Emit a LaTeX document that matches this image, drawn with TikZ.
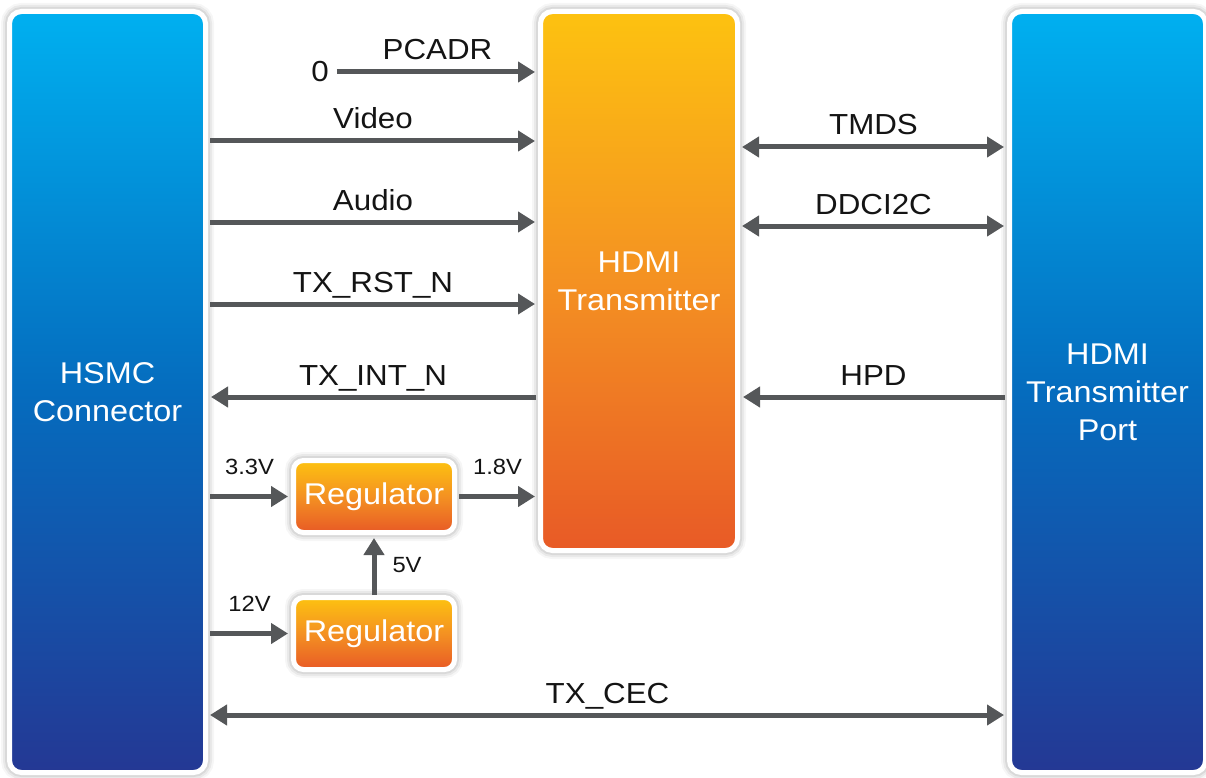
\documentclass[tikz,border=0pt]{standalone}
\usepackage{fontspec}
\setmainfont{Liberation Sans}[FakeStretch=1.08]
\usetikzlibrary{arrows.meta, positioning}
\definecolor{skytop}{RGB}{0,176,240}
\definecolor{bluemid}{RGB}{5,108,190}
\definecolor{navybottom}{RGB}{36,56,148}
\definecolor{ambertop}{RGB}{253,194,16}
\definecolor{orangemid}{RGB}{244,145,34}
\definecolor{rustbottom}{RGB}{232,90,38}
\definecolor{arrowgray}{RGB}{85,87,89}
\definecolor{labelblack}{RGB}{20,20,20}

\begin{document}
\begin{tikzpicture}[
    x=1pt, y=-1pt,
    block/.style={draw=white, line width=5pt, rounded corners=12pt, inner sep=0pt, align=center,
      text=white, font=\fontsize{30}{38}\selectfont,
      preaction={draw=black, draw opacity=0.035, line width=17pt},
      preaction={draw=black, draw opacity=0.05, line width=13pt},
      preaction={draw=black, draw opacity=0.07, line width=9pt}},
    blueblock/.style={block, top color=skytop, bottom color=navybottom, middle color=bluemid,
      minimum width=196pt, minimum height=761pt},
    orangeblock/.style={block, top color=ambertop, bottom color=rustbottom, middle color=orangemid},
    regulator/.style={orangeblock, rounded corners=10pt, minimum width=161pt, minimum height=72pt},
    arrow/.style={-{Triangle[length=17pt, width=20pt]}, line width=5pt, draw=arrowgray,
      shorten >=3pt, shorten <=2pt},
    biarrow/.style={arrow, {Triangle[length=17pt, width=20pt]}-{Triangle[length=17pt, width=20pt]}},
    sig/.style={anchor=base, yshift=12pt, inner sep=0pt, text=labelblack, font=\fontsize{29}{32}\selectfont},
    sigsmall/.style={sig, yshift=10pt, font=\fontsize{22}{25}\selectfont}
]
    \useasboundingbox (0,0) rectangle (1206,778);

    % Blocks
    \node[blueblock] (hsmc) at (107.5,392) {HSMC\\Connector};
    \node[orangeblock, minimum width=197pt, minimum height=539pt] (tx) at (639,281) {HDMI\\Transmitter};
    \node[blueblock] (port) at (1107.5,392) {HDMI\\Transmitter\\Port};
    \node[regulator] (reg1) at (374,496.5) {Regulator};
    \node[regulator, below=60pt of reg1] (reg2) {Regulator};
    \node[inner sep=0pt, text=labelblack, font=\fontsize{29}{32}\selectfont] (zero) at (320,72) {0};
    \coordinate (zstart) at ([xshift=8pt]zero.east);

    % HSMC to transmitter
    \draw[arrow, shorten <=0pt] (zstart) -- node[sig] {PCADR} (tx.west |- zstart);
    \draw[arrow] (hsmc.east |- 0,141) -- node[sig] {Video} (tx.west |- 0,141);
    \draw[arrow] (hsmc.east |- 0,222) -- node[sig] {Audio} (tx.west |- 0,222);
    \draw[arrow] (hsmc.east |- 0,304) -- node[sig] {TX\_RST\_N} (tx.west |- 0,304);
    \draw[arrow] (tx.west |- 0,397) -- node[sig] {TX\_INT\_N} (hsmc.east |- 0,397);

    % Power
    \draw[arrow] (hsmc.east |- reg1.west) -- node[sigsmall] {3.3V} (reg1.west);
    \draw[arrow] (reg1.east) -- node[sigsmall] {1.8V} (tx.west |- reg1.east);
    \draw[arrow, shorten <=0pt] (reg2.north) -- node[right=16pt, inner sep=0pt, text=labelblack,
      font=\fontsize{22}{25}\selectfont] {5V} (reg1.south);
    \draw[arrow] (hsmc.east |- reg2.west) -- node[sigsmall] {12V} (reg2.west);

    % Transmitter to port
    \draw[biarrow] (tx.east |- 0,147) -- node[sig] {TMDS} (port.west |- 0,147);
    \draw[biarrow] (tx.east |- 0,226) -- node[sig] {DDCI2C} (port.west |- 0,226);
    \draw[arrow] (port.west |- 0,397) -- node[sig] {HPD} (tx.east |- 0,397);
    \draw[biarrow] (hsmc.east |- 0,715) -- node[sig] {TX\_CEC} (port.west |- 0,715);
\end{tikzpicture}
\end{document}
